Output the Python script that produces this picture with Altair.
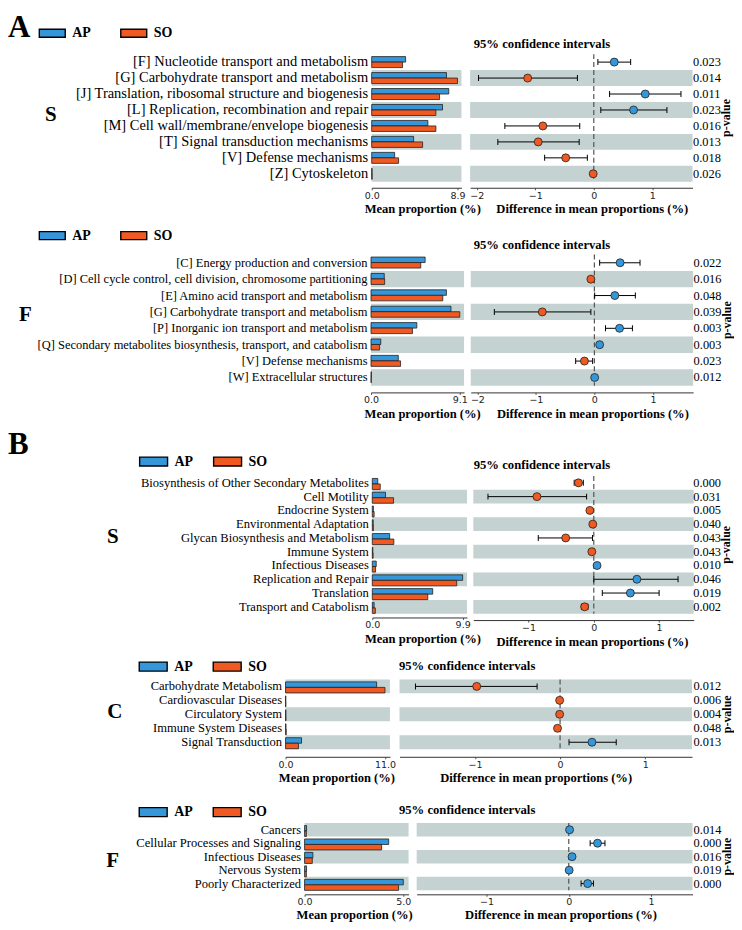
import altair as alt
import pandas as pd

SERIF = "Liberation Serif"
SANS = "DejaVu Sans"
BLUE = "#3597d9"
ORANGE = "#f05a22"
GRAY = "#c4d2d2"
GROUPS = ["AP", "SO"]

# ---------------- Panel A, S ----------------
AS_cats = ["[F] Nucleotide transport and metabolism",
           "[G] Carbohydrate transport and metabolism",
           "[J] Translation, ribosomal structure and biogenesis",
           "[L] Replication, recombination and repair",
           "[M] Cell wall/membrane/envelope biogenesis",
           "[T] Signal transduction mechanisms",
           "[V] Defense mechanisms",
           "[Z] Cytoskeleton"]
AS_ap = [3.52, 7.76, 8.00, 7.35, 5.83, 4.35, 2.38, 0.04]
AS_so = [3.20, 8.90, 7.04, 6.66, 6.66, 5.28, 2.79, 0.05]
AS_diff = [0.35, -1.13, 0.88, 0.68, -0.87, -0.95, -0.48, -0.01]
AS_lo = [0.07, -1.97, 0.27, 0.12, -1.52, -1.64, -0.84, -0.02]
AS_hi = [0.63, -0.28, 1.49, 1.25, -0.24, -0.25, -0.11, 0.00]
AS_p = ["0.023", "0.014", "0.011", "0.023", "0.016", "0.013", "0.018", "0.026"]

# ---------------- Panel A, F ----------------
AF_cats = ["[C] Energy production and conversion",
           "[D] Cell cycle control, cell division, chromosome partitioning",
           "[E] Amino acid transport and metabolism",
           "[G] Carbohydrate transport and metabolism",
           "[P] Inorganic ion transport and metabolism",
           "[Q] Secondary metabolites biosynthesis, transport, and catabolism",
           "[V] Defense mechanisms",
           "[W] Extracellular structures"]
AF_ap = [5.55, 1.36, 7.73, 8.20, 4.70, 1.00, 2.80, 0.04]
AF_so = [5.10, 1.40, 7.36, 9.10, 4.25, 0.88, 3.03, 0.03]
AF_diff = [0.44, -0.06, 0.35, -0.89, 0.43, 0.09, -0.17, 0.005]
AF_lo = [0.09, -0.10, 0.005, -1.71, 0.19, 0.06, -0.32, 0.00]
AF_hi = [0.78, -0.02, 0.70, -0.06, 0.65, 0.12, -0.03, 0.01]
AF_p = ["0.022", "0.016", "0.048", "0.039", "0.003", "0.003", "0.023", "0.012"]

# ---------------- Panel B, S ----------------
BS_cats = ["Biosynthesis of Other Secondary Metabolites", "Cell Motility",
           "Endocrine System", "Environmental Adaptation",
           "Glycan Biosynthesis and Metabolism", "Immune System",
           "Infectious Diseases", "Replication and Repair", "Translation",
           "Transport and Catabolism"]
BS_ap = [0.60, 1.45, 0.12, 0.10, 1.90, 0.06, 0.43, 9.90, 6.62, 0.20]
BS_so = [0.87, 2.33, 0.20, 0.12, 2.36, 0.09, 0.36, 9.25, 6.08, 0.33]
BS_diff = [-0.235, -0.87, -0.06, -0.015, -0.43, -0.03, 0.05, 0.66, 0.56, -0.14]
BS_lo = [-0.30, -1.62, -0.08, -0.02, -0.85, -0.04, 0.03, 0.00, 0.13, -0.19]
BS_hi = [-0.16, -0.11, -0.04, -0.01, -0.02, -0.02, 0.07, 1.29, 1.00, -0.09]
BS_p = ["0.000", "0.031", "0.005", "0.040", "0.043", "0.043", "0.010", "0.046", "0.019", "0.002"]

# ---------------- Panel B, C ----------------
BC_cats = ["Carbohydrate Metabolism", "Cardiovascular Diseases",
           "Circulatory System", "Immune System Diseases", "Signal Transduction"]
BC_ap = [10.08, 0.03, 0.04, 0.05, 1.77]
BC_so = [11.00, 0.04, 0.05, 0.08, 1.43]
BC_diff = [-0.98, -0.005, -0.005, -0.03, 0.375]
BC_lo = [-1.70, -0.01, -0.01, -0.045, 0.105]
BC_hi = [-0.27, 0.00, 0.00, -0.015, 0.66]
BC_p = ["0.012", "0.006", "0.004", "0.048", "0.013"]

# ---------------- Panel B, F ----------------
BF_cats = ["Cancers", "Cellular Processes and Signaling", "Infectious Diseases",
           "Nervous System", "Poorly Characterized"]
BF_ap = [0.10, 4.26, 0.42, 0.10, 5.00]
BF_so = [0.09, 3.90, 0.39, 0.09, 4.76]
BF_diff = [0.01, 0.35, 0.04, 0.005, 0.23]
BF_lo = [0.005, 0.26, 0.02, 0.00, 0.15]
BF_hi = [0.015, 0.44, 0.06, 0.01, 0.30]
BF_p = ["0.014", "0.000", "0.016", "0.019", "0.000"]

# layout, in page pixels (y values of a row are shifted by its "dy")
ROWS = [
    dict(cats=AS_cats, ap=AS_ap, so=AS_so, diff=AS_diff, lo=AS_lo, hi=AS_hi, p=AS_p,
         top=52, dy=0, step=16.0, bar_left=372.3, bar_ppu=9.663, bar_tick=8.9, gap=8.7,
         dot_left=471, dot_w=223, zero=595, dot_ppu=58.67, dot_ticks=[-2, -1, 0, 1], pv_x=694.5,
         bar_axis=186, dot_axis=186, title_y=25, letter="S", let_x=51, let_base=119,
         leg_x=38, leg_y=30, leg_w=26, leg_h=8, leg_cp=26.7, lab=14.5, bar_tx=423, dot_tx=593,
         texts=[("A", 8, 11, 31, "top"), ("95% confidence intervals", 475, 42, 12.7, "middle")]),
    dict(cats=AF_cats, ap=AF_ap, so=AF_so, diff=AF_diff, lo=AF_lo, hi=AF_hi, p=AF_p,
         top=253, dy=-0.5, step=16.43, bar_left=371.7, bar_ppu=9.78, bar_tick=9.1, gap=6,
         dot_left=471, dot_w=223, zero=595, dot_ppu=58.67, dot_ticks=[-2, -1, 0, 1], pv_x=694.5,
         bar_axis=391.7, dot_axis=391.7, title_y=25, letter="F", let_x=25.5, let_base=320,
         leg_x=38, leg_y=233.5, leg_w=26, leg_h=8, leg_cp=26.7, lab=12.5, bar_tx=423, dot_tx=593,
         texts=[("95% confidence intervals", 475, 244, 12.7, "middle")]),
    dict(cats=BS_cats, ap=BS_ap, so=BS_so, diff=BS_diff, lo=BS_lo, hi=BS_hi, p=BS_p,
         top=475, dy=0.2, step=13.81, bar_left=372.7, bar_ppu=9.152, bar_tick=9.9, gap=6.3,
         dot_left=474, dot_w=221, zero=594.8, dot_ppu=65.5, dot_ticks=[-1, 0, 1], pv_x=694.5,
         bar_axis=616.7, dot_axis=619.3, title_y=25, letter="S", let_x=113, let_base=541.7,
         leg_x=138, leg_y=459, leg_w=28, leg_h=9, leg_cp=17.2, lab=12.6, bar_tx=423, dot_tx=593,
         texts=[("B", 8, 453, 31, "alphabetic"), ("95% confidence intervals", 475, 464, 12.7, "middle")]),
    dict(cats=BC_cats, ap=BC_ap, so=BC_so, diff=BC_diff, lo=BC_lo, hi=BC_hi, p=BC_p,
         top=679, dy=-0.7, step=14.0, bar_left=286, bar_ppu=9.064, bar_tick=11.0, gap=9.3,
         dot_left=400, dot_w=293.3, zero=561, dot_ppu=85.3, dot_ticks=[-1, 0, 1], pv_x=694,
         bar_axis=757.3, dot_axis=757.3, title_y=25, letter="C", let_x=115, let_base=718,
         leg_x=138, leg_y=665.5, leg_w=28, leg_h=9, leg_cp=17.2, lab=12.6, bar_tx=337, dot_tx=536.5,
         texts=[("95% confidence intervals", 400, 666, 12.7, "middle")]),
    dict(cats=BF_cats, ap=BF_ap, so=BF_so, diff=BF_diff, lo=BF_lo, hi=BF_hi, p=BF_p,
         top=823, dy=-1.8, step=13.5, bar_left=305, bar_ppu=19.8, bar_tick=5.0, gap=7.4,
         dot_left=416.7, dot_w=276.6, zero=569.2, dot_ppu=82.5, dot_ticks=[-1, 0, 1], pv_x=694,
         bar_axis=896.3, dot_axis=896.3, title_y=24, letter="F", let_x=113, let_base=869,
         leg_x=138, leg_y=812.5, leg_w=28, leg_h=9, leg_cp=17.2, lab=12.6, bar_tx=354.7, dot_tx=561,
         texts=[("95% confidence intervals", 400, 811.7, 12.7, "middle")]),
]
PT_X = 727.8  # centre of the vertical "p-value" label
SYM = 20      # legend symbol layout size (px)

MINUS_EXPR = "datum.value < 0 ? '\u2212' + abs(datum.value) : datum.label"


def make_legend(lc, ox, oy):
    w, h = lc["leg_w"], lc["leg_h"]
    sx, sy = w / SYM, h / SYM
    path = f"M{-sx},{-sy}H{sx}V{sy}H{-sx}Z"
    return alt.Legend(
        orient="none",
        legendX=lc["leg_x"] - SYM / 2 + w / 2 - ox,
        legendY=lc["leg_y"] + lc["dy"] - SYM / 2 - oy,
        direction="horizontal", title=None,
        symbolType=path, symbolSize=SYM * SYM,
        symbolStrokeColor="black", symbolStrokeWidth=1.4, symbolOpacity=1,
        labelFont=SERIF, labelFontWeight="bold", labelFontSize=14, labelColor="black",
        labelOffset=w / 2 - SYM / 2 + 6, columnPadding=lc["leg_cp"], padding=0, rowPadding=0,
    )


def x_axis(c, values, fmt, title, offset, tx, expr=None):
    kw = dict(
        values=values, format=fmt, title=title,
        labelFont=SANS, labelFontSize=9.5, labelColor="#222", labelPadding=0.5,
        labelFlush=False, labelOverlap=False,
        tickSize=2, tickColor="#555", domainColor="#333", domainWidth=1, grid=False,
        offset=offset,
        titleFont=SERIF, titleFontWeight="bold", titleFontSize=12.6, titleColor="black",
        titleX=tx, titleY=c["title_y"], titleBaseline="alphabetic",
    )
    if expr:
        kw["labelExpr"] = expr
    return alt.Axis(**kw)


def row_chart(idx):
    c = ROWS[idx]
    nxt = ROWS[idx + 1] if idx + 1 < len(ROWS) else None
    cats = c["cats"]
    n = len(cats)
    H = n * c["step"]
    top = c["top"]
    # the next row is pushed 1px down by stroke overhang, hence the -1
    cell_h = (nxt["top"] - top - 1) if nxt else H
    gap = c["gap"]
    bl = c["bar_left"]
    dl = c["dot_left"]
    bw = dl - gap - bl
    ws = bl - 8 - gap
    dw = c["dot_w"]
    pl = dl + dw + gap
    bmax = bw / c["bar_ppu"]
    dmin = (dl - c["zero"]) / c["dot_ppu"]
    dmax = (dl + dw - c["zero"]) / c["dot_ppu"]
    bottom = top + H

    ysc = alt.Scale(domain=cats, paddingInner=0, paddingOuter=0)
    csc = alt.Scale(domain=GROUPS, range=[BLUE, ORANGE])
    stripes = [cat for i, cat in enumerate(cats) if (n - 1 - i) % 2 == 0]
    st_df = pd.DataFrame({"cat": stripes})

    # --- letters and headings (own sub-letter, headings of the next panel) ---
    txt_layers = [alt.Chart(pd.DataFrame({"t": [c["letter"]]})).mark_text(
        font=SERIF, fontWeight="bold", fontSize=21, align="center", baseline="alphabetic", color="black"
    ).encode(text="t:N", x=alt.value(c["let_x"] - 8), y=alt.value(c["let_base"] + c["dy"] - top))]
    heads = []
    if idx == 0:
        heads += [(t, c["dy"]) for t in c["texts"]]
    if nxt:
        heads += [(t, nxt["dy"]) for t in nxt["texts"]]
    for (txt, px, py, fs, base), sh in heads:
        txt_layers.append(alt.Chart(pd.DataFrame({"t": [txt]})).mark_text(
            font=SERIF, fontWeight="bold", fontSize=fs, align="left", baseline=base, color="black"
        ).encode(text="t:N", x=alt.value(px - 8), y=alt.value(py + sh - top)))
    spacer = alt.layer(*txt_layers).properties(width=ws, height=cell_h)

    # --- bars ---
    bar_df = pd.DataFrame({"cat": cats + cats,
                           "group": ["AP"] * n + ["SO"] * n,
                           "val": c["ap"] + c["so"]})
    bx = alt.Scale(domain=[0, bmax], nice=False, zero=False)
    b_stripe = alt.Chart(st_df).mark_rect(color=GRAY).encode(
        y=alt.Y("cat:N", scale=ysc),
        x=alt.XDatum(0, type="quantitative", scale=bx),
        x2=alt.X2Datum(bmax),
    )
    bar_axis = x_axis(c, [0, c["bar_tick"]], ".1f", "Mean proportion (%)",
                      c["bar_axis"] + c["dy"] - bottom, c["bar_tx"] - bl)
    bar_legend = make_legend(c, bl, top) if idx == 0 else None
    bars = alt.Chart(bar_df).mark_bar(stroke="#222", strokeWidth=0.8).encode(
        y=alt.Y("cat:N", scale=ysc,
                axis=alt.Axis(title=None, domain=False, ticks=False, labelFont=SERIF,
                              labelFontSize=c["lab"], labelColor="black", labelPadding=4,
                              labelLimit=600, grid=False)),
        yOffset=alt.YOffset("group:N", scale=alt.Scale(domain=GROUPS, paddingOuter=0.45, paddingInner=0)),
        x=alt.X("val:Q", scale=bx, axis=bar_axis),
        color=alt.Color("group:N", scale=csc, legend=bar_legend),
    )
    bar_layer = alt.layer(b_stripe, bars).properties(width=bw, height=H)

    # --- difference dots ---
    d_df = pd.DataFrame({"cat": cats, "diff": c["diff"], "lo": c["lo"], "hi": c["hi"],
                         "group": ["AP" if v > 0 else "SO" for v in c["diff"]]})
    dx = alt.Scale(domain=[dmin, dmax], nice=False, zero=False)
    d_stripe = alt.Chart(st_df).mark_rect(color=GRAY).encode(
        y=alt.Y("cat:N", scale=ysc, axis=None),
        x=alt.XDatum(dmin, type="quantitative", scale=dx),
        x2=alt.X2Datum(dmax),
    )
    zero = alt.Chart(pd.DataFrame({"z": [0.0]})).mark_rule(
        color="#555", strokeDash=[5, 3], strokeWidth=1.2
    ).encode(x=alt.X("z:Q", scale=dx))
    ci = alt.Chart(d_df).mark_rule(color="black", strokeWidth=1).encode(
        y=alt.Y("cat:N", scale=ysc, axis=None),
        x=alt.X("lo:Q", scale=dx), x2="hi:Q")
    caps = alt.Chart(d_df).transform_fold(["lo", "hi"], as_=["end", "v"]).mark_tick(
        color="black", thickness=1, size=6, opacity=1
    ).encode(y=alt.Y("cat:N", scale=ysc, axis=None), x=alt.X("v:Q", scale=dx))
    dot_axis = x_axis(c, c["dot_ticks"], "d", "Difference in mean proportions (%)",
                      c["dot_axis"] + c["dy"] - bottom, c["dot_tx"] - dl, MINUS_EXPR)
    dot_legend = make_legend(nxt, dl, top) if nxt else None
    pts = alt.Chart(d_df).mark_circle(size=64, opacity=1, stroke="#222", strokeWidth=0.8).encode(
        y=alt.Y("cat:N", scale=ysc, axis=None),
        x=alt.X("diff:Q", scale=dx, axis=dot_axis),
        color=alt.Color("group:N", scale=csc, legend=dot_legend),
    )
    dot_layer = alt.layer(d_stripe, zero, ci, caps, pts).properties(width=dw, height=H)

    # --- p-values ---
    p_df = pd.DataFrame({"cat": cats, "p": c["p"]})
    ptxt = alt.Chart(p_df).mark_text(
        align="left", baseline="middle", font=SERIF, fontSize=12.4, color="black"
    ).encode(y=alt.Y("cat:N", scale=ysc, axis=None), x=alt.value(c["pv_x"] - pl), text="p:N")
    ptitle = alt.Chart(pd.DataFrame({"t": ["p-value"]})).mark_text(
        angle=270, align="center", baseline="middle", font=SERIF, fontWeight="bold",
        fontSize=12, color="black"
    ).encode(text="t:N", x=alt.value(PT_X - pl), y=alt.value(H / 2))
    pcell = alt.layer(ptxt, ptitle).properties(width=16, height=H)

    return alt.hconcat(spacer, bar_layer, dot_layer, pcell, spacing=gap, bounds="flush"
                       ).resolve_scale(color="independent", y="independent"
                       ).resolve_legend(color="independent")


chart = alt.vconcat(*[row_chart(i) for i in range(len(ROWS))], spacing=0, bounds="full"
                    ).resolve_scale(color="independent").resolve_legend(color="independent"
                    ).properties(padding={"top": 3, "left": 0, "right": 0, "bottom": 0}
                    ).configure_view(strokeWidth=0)

chart.save("out.html", embed_options={"renderer": "svg", "actions": False})
